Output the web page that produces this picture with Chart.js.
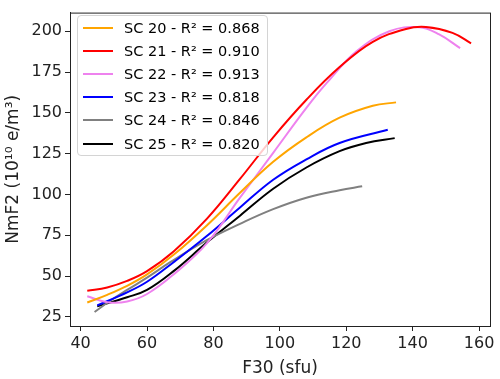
<!DOCTYPE html>
<html>
<head>
<meta charset="utf-8">
<script src="https://cdn.jsdelivr.net/npm/chart.js@4.4.0/dist/chart.umd.min.js"></script>
<style>
  html, body { margin: 0; padding: 0; background: #fff; }
  #wrap { position: relative; width: 500px; height: 379px; }
  #legend {
    position: absolute; left: 77px; top: 15px; width: 189px;
    border: 1px solid #d4d4d4; border-radius: 4px;
    background: rgba(255, 255, 255, 0.8);
    font-family: 'DejaVu Sans', sans-serif; font-size: 14.5px; color: #000;
  }
  .row { height: 23.2px; display: flex; align-items: center; white-space: nowrap; }
  .swatch { width: 30px; height: 2px; margin-left: 5px; margin-right: 11px; }
</style>
</head>
<body>
<div id="wrap">
  <canvas id="chart" width="500" height="379"></canvas>
  <div id="legend"></div>
</div>
<script>
// solar cycles, fit quality and colours
const cycles = ['SC 20', 'SC 21', 'SC 22', 'SC 23', 'SC 24', 'SC 25'];
const r2 = ['0.868', '0.910', '0.913', '0.818', '0.846', '0.820'];
const colors = ['#ffa500', '#ff0000', '#ee82ee', '#0000ff', '#808080', '#000000'];

// fitted curves: F30 (sfu) -> NmF2
const sc20F = [42, 48, 54, 60, 68, 78, 88, 98, 108, 118, 128, 135];
const sc20N = [33.8, 38.5, 44, 51, 63, 81, 101, 120, 135, 147, 154.3, 156.4];
const sc21F = [42, 48, 54, 60, 68, 78, 88, 98, 108, 118, 128, 138, 144, 152, 157.6];
const sc21N = [41, 43, 47, 53, 65, 85, 109.5, 135, 158, 178, 193.5, 201.4, 202.6, 199, 192.6];
const sc22F = [42, 48, 54, 60, 68, 78, 88, 98, 108, 114, 123, 133, 142, 148, 154.3];
const sc22N = [37.6, 34, 34.4, 39, 51, 70, 98, 125.5, 153, 168, 187.5, 200, 202.4, 198, 189.6];
const sc23F = [45, 54, 60, 68, 78, 88, 98, 108, 118, 132.5];
const sc23N = [32, 40, 46.5, 58.5, 74.5, 92, 109, 121.5, 131.5, 139.6];
const sc24F = [44.2, 49, 54, 60, 67, 78, 88, 98, 108, 118, 124.8];
const sc24N = [28, 35, 41.5, 49, 58.5, 72, 82, 91, 98, 102.6, 105];
const sc25F = [45, 54, 60, 68, 78, 88, 98, 108, 118, 126, 134.6];
const sc25N = [31.4, 37, 41.5, 53, 70.5, 87, 103.5, 116.5, 126.5, 131.5, 134.5];

const xTicks = [40, 60, 80, 100, 120, 140, 160];
const yTicks = [25, 50, 75, 100, 125, 150, 175, 200];

const seriesF = [sc20F, sc21F, sc22F, sc23F, sc24F, sc25F];
const seriesN = [sc20N, sc21N, sc22N, sc23N, sc24N, sc25N];

const font = 'DejaVu Sans';

const datasets = cycles.map((name, i) => ({
    label: name + ' - R² = ' + r2[i],
    data: seriesF[i].map((f, j) => ({ x: f, y: seriesN[i][j] })),
    borderColor: colors[i],
    borderWidth: 2,
    pointRadius: 0,
    showLine: true,
    fill: false,
    tension: 0.4
}));

// box around the plot area
const frame = {
    id: 'frame',
    afterDraw(chart) {
        const { ctx, chartArea: a } = chart;
        ctx.save();
        ctx.strokeStyle = '#222';
        ctx.lineWidth = 1;
        ctx.strokeRect(a.left + 0.5, a.top + 0.5, a.right - a.left, a.bottom - a.top);
        ctx.restore();
    }
};

new Chart(document.getElementById('chart'), {
    type: 'scatter',
    data: { datasets },
    options: {
        responsive: false,
        animation: false,
        layout: { padding: { top: 6, right: 10, left: 3, bottom: 0 } },
        plugins: { legend: { display: false }, tooltip: { enabled: false } },
        scales: {
            x: {
                type: 'linear',
                min: 36.8,
                max: 163.3,
                afterBuildTicks: s => { s.ticks = xTicks.map(v => ({ value: v })); },
                afterFit: s => { s.height = 53; },
                grid: { drawOnChartArea: false, tickLength: 5, color: '#222' },
                border: { color: '#222' },
                ticks: { color: '#222', padding: 3, maxRotation: 0, font: { family: font, size: 16 } },
                title: { display: true, text: 'F30 (sfu)', color: '#222', padding: { top: 1, bottom: 0 }, font: { family: font, size: 17 } }
            },
            y: {
                type: 'linear',
                min: 19.4,
                max: 211.4,
                afterBuildTicks: s => { s.ticks = yTicks.map(v => ({ value: v })); },
                afterFit: s => { s.width = 67; },
                grid: { drawOnChartArea: false, tickLength: 5, color: '#222' },
                border: { color: '#222' },
                ticks: { color: '#222', padding: 3, font: { family: font, size: 16 } },
                title: { display: true, text: 'NmF2 (10¹⁰ e/m³)', color: '#222', padding: { top: 0, bottom: 2 }, font: { family: font, size: 17 } }
            }
        }
    },
    plugins: [frame]
});

// legend in the upper left corner
const legend = document.getElementById('legend');
datasets.forEach(ds => {
    const row = document.createElement('div');
    row.className = 'row';
    row.innerHTML = `<span class="swatch" style="background:${ds.borderColor}"></span><span>${ds.label}</span>`;
    legend.appendChild(row);
});
</script>
</body>
</html>
